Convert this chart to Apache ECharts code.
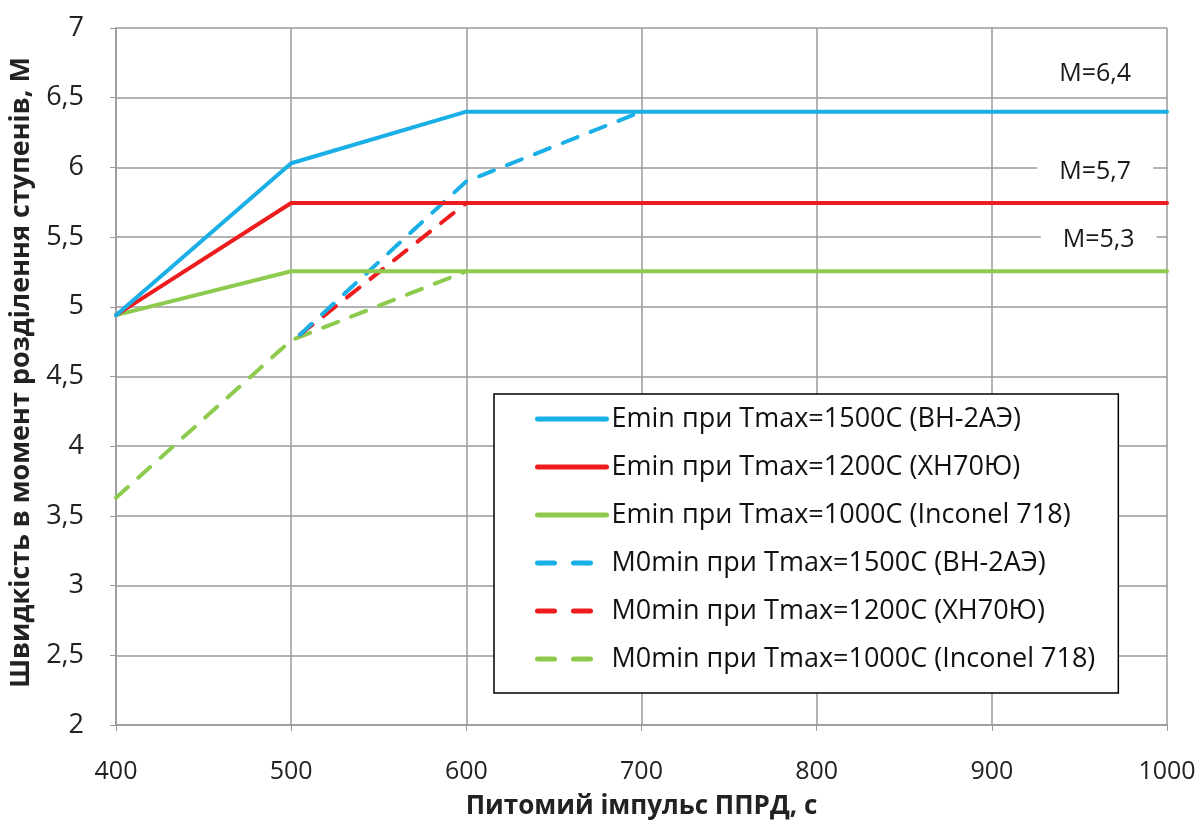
<!DOCTYPE html>
<html><head><meta charset="utf-8">
<script src="https://cdn.jsdelivr.net/npm/echarts@6/dist/echarts.min.js"></script>
<style>html,body{margin:0;padding:0;background:#fff}#c{width:1200px;height:827px}</style>
</head><body><div id="c"></div>
<script>
const xTicks = [400, 500, 600, 700, 800, 900, 1000];
const seriesNames = [
  'Emin при Tmax=1500C (ВН-2АЭ)',
  'Emin при Tmax=1200C (ХН70Ю)',
  'Emin при Tmax=1000C (Inconel 718)',
  'M0min при Tmax=1500C (ВН-2АЭ)',
  'M0min при Tmax=1200C (ХН70Ю)',
  'M0min при Tmax=1000C (Inconel 718)'
];
const eminBlue  = [[400, 4.94], [500, 6.03], [600, 6.4], [1000, 6.4]];
const eminRed   = [[400, 4.94], [500, 5.745], [1000, 5.745]];
const eminGreen = [[400, 4.94], [500, 5.255], [1000, 5.255]];
const m0Blue    = [[505, 4.8], [600, 5.9], [700, 6.4]];
const m0Red     = [[505, 4.8], [600, 5.745]];
const m0Green   = [[400, 3.63], [500, 4.76], [600, 5.255]];
const annotations = [
  {text: 'M=6,4', x: 959, y: 6.67},
  {text: 'M=5,7', x: 959, y: 5.97},
  {text: 'M=5,3', x: 961, y: 5.48}
];
const colors = ['#1AAFE6', '#EE1C1C', '#8DCB4E', '#1AAFE6', '#EE1C1C', '#8DCB4E'];
const dataSets = [eminBlue, eminRed, eminGreen, m0Blue, m0Red, m0Green];
const FONT = 'Open Sans';

const chart = echarts.init(document.getElementById('c'));
const series = dataSets.map((d, i) => ({
  name: seriesNames[i],
  type: 'line',
  data: d,
  symbol: 'none',
  z: 10 - i,
  lineStyle: {
    color: colors[i], width: 4,
    type: i >= 3 ? [16, 14] : 'solid',
    cap: 'round', join: 'round'
  },
  itemStyle: {color: colors[i]}
}));
series.push({
  type: 'scatter', name: 'ann', data: [], silent: true,
  markPoint: {
    symbol: 'rect', symbolSize: 1, itemStyle: {color: 'rgba(0,0,0,0)'},
    label: {show: true, position: 'inside', color: '#1a1a1a', fontSize: 25,
      fontFamily: FONT, backgroundColor: '#fff', padding: [0, 22],
      formatter: p => p.name},
    data: annotations.map(a => ({name: a.text, coord: [a.x, a.y]}))
  }
});

chart.setOption({
  animation: false,
  backgroundColor: '#fff',
  grid: {left: 116, right: 33, top: 28, bottom: 102, outerBoundsMode: 'none', containLabel: false},
  legend: {
    data: seriesNames.map((n, i) => ({
      name: n,
      itemStyle: {opacity: 0, borderWidth: 0},
      lineStyle: {width: 5, cap: 'round', color: colors[i], opacity: 1, type: i >= 3 ? [17, 19] : 'solid'}
    })),
    orient: 'vertical',
    left: 494, top: 394,
    padding: [10, 23, 19, 41],
    itemGap: 18,
    itemWidth: 69, itemHeight: 30,
    backgroundColor: '#fff',
    borderColor: '#000', borderWidth: 1.5,
    textStyle: {fontSize: 27, lineHeight: 30, fontFamily: FONT, color: '#111', padding: [0, 0, 0, 0]}
  },
  xAxis: {
    type: 'value', min: 400, max: 1000, interval: 100,
    name: 'Питомий імпульс ППРД, с', nameLocation: 'middle', nameGap: 69,
    nameTextStyle: {fontSize: 26, fontWeight: 'bold', fontFamily: FONT, color: '#222'},
    axisLine: {show: true, lineStyle: {color: '#9a9a9a', width: 1.5}},
    axisTick: {show: true, length: 6, inside: false, lineStyle: {color: '#9a9a9a'}},
    axisLabel: {fontSize: 25, color: '#222', margin: 34, fontFamily: FONT,
      formatter: v => String(v)},
    splitLine: {show: true, lineStyle: {color: '#9a9a9a', width: 1.5}}
  },
  yAxis: {
    type: 'value', min: 2, max: 7, interval: 0.5,
    name: 'Швидкість в момент розділення ступенів, М', nameLocation: 'middle', nameGap: 76,
    nameTextStyle: {fontSize: 27, fontWeight: 'bold', fontFamily: FONT, color: '#222', padding: [0, 0, 0, 8]},
    axisLine: {show: true, lineStyle: {color: '#9a9a9a', width: 1.5}},
    axisTick: {show: true, length: 6, lineStyle: {color: '#9a9a9a'}},
    axisLabel: {fontSize: 27, color: '#222', margin: 32, fontFamily: FONT,
      formatter: v => String(v).replace('.', ',')},
    splitLine: {show: true, lineStyle: {color: '#9a9a9a', width: 1.5}}
  },
  series: series
});
</script></body></html>
